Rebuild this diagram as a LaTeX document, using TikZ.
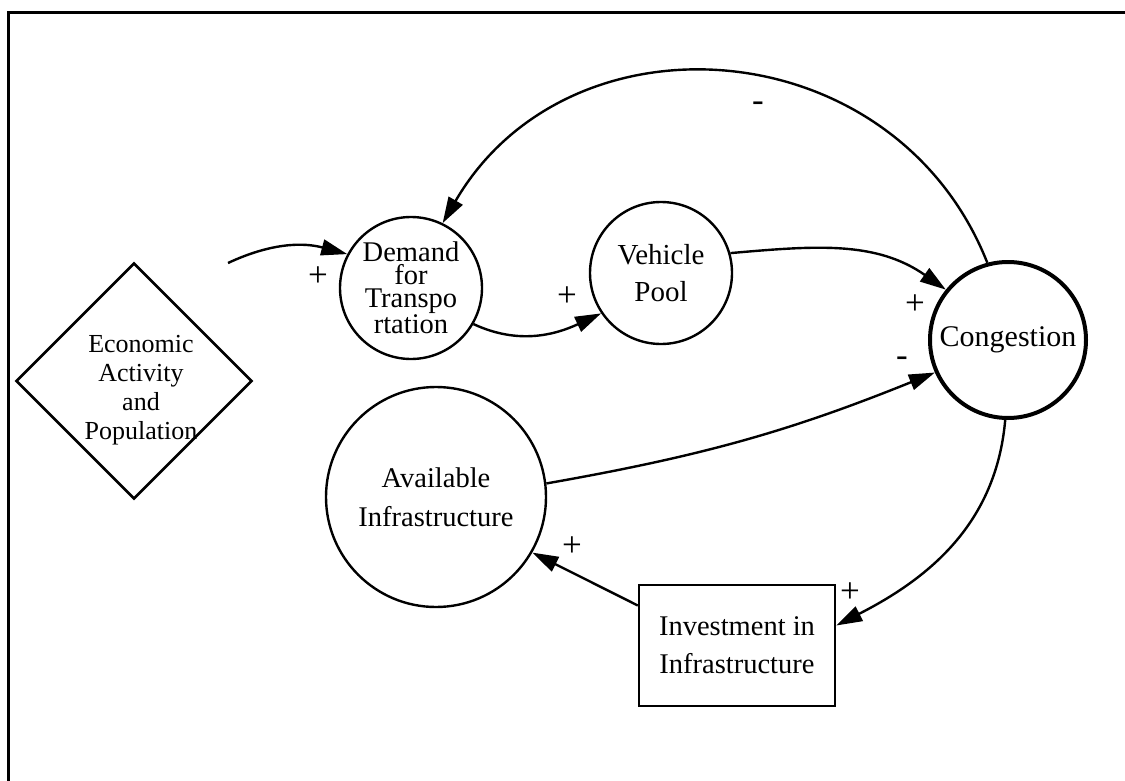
\documentclass[tikz,border=0pt]{standalone}
\usepackage{fontspec}
\setmainfont{Liberation Serif}
\usetikzlibrary{arrows.meta,shapes.geometric,calc}

\begin{document}
\begin{tikzpicture}[x=1pt,y=1pt,
  var/.style={circle,draw,line width=2.4pt,inner sep=0pt,align=center},
  link/.style={line width=2.4pt,-{Triangle[length=26pt,width=16pt]}},
  sign/.style={font=\fontsize{35}{35}\selectfont,inner sep=0pt}]
\useasboundingbox (0,0) rectangle (1125,-781);
% frame
\draw[line width=3pt] (8,-800) |- (1140,-13);

% exogenous driver
\node[diamond,draw,line width=2.6pt,minimum width=236pt,minimum height=236pt,
      aspect=1,inner sep=0pt] (econ) at (134,-381) {};
\node[align=center,font=\fontsize{26}{29}\selectfont] (econtext) at (141,-390)
  {Economic\\Activity\\and\\Population};

% state variables
\node[var,minimum size=142pt,font=\fontsize{28.5}{23}\selectfont] (dem) at (411,-288)
  {Demand\\for\\Transpo\\rtation};
\node[var,minimum size=142pt,font=\fontsize{29}{37}\selectfont] (veh) at (661,-273)
  {Vehicle\\Pool};
\node[var,line width=4pt,minimum size=156pt,font=\fontsize{30}{36}\selectfont] (cong) at (1008,-340)
  {Congestion};
\node[var,minimum size=220pt,font=\fontsize{28.5}{39}\selectfont] (avail) at (436,-497)
  {Available\\Infrastructure};
\node[draw,line width=2.4pt,minimum width=196pt,minimum height=121pt,inner sep=0pt,
      align=center,font=\fontsize{28.5}{38}\selectfont] (inv) at (737,-645.5)
  {Investment in\\Infrastructure};

% causal links
\coordinate (src) at (228,-263);
\draw[link] (src) to[out=25,in=165] (dem.152);
\draw[link] (dem.-30) to[out=-25,in=205] (veh.-146);
\draw[link] (veh.16) to[out=5,in=145] (cong.141);
\draw[link] (cong.105) to[out=111.6,in=59.8,looseness=1.18] (dem.64);
\draw[link] (avail.7) to[out=10,in=202] (cong.204);
\draw[link] (cong.-92) to[out=-95,in=27] ([yshift=20pt]inv.east);
\draw[link] ([yshift=40pt]inv.west) -- (avail.-30);

% polarities
\node[sign] (p1) at (318,-277) {+};
\node[sign] (p2) at (567,-297) {+};
\node[sign] (p3) at (915,-305) {+};
\node[sign] (m1) at (758,-107) {-};
\node[sign] (m2) at (902,-362) {-};
\node[sign] (p4) at (850,-593) {+};
\node[sign] (p5) at (572,-547) {+};
\end{tikzpicture}
\end{document}
